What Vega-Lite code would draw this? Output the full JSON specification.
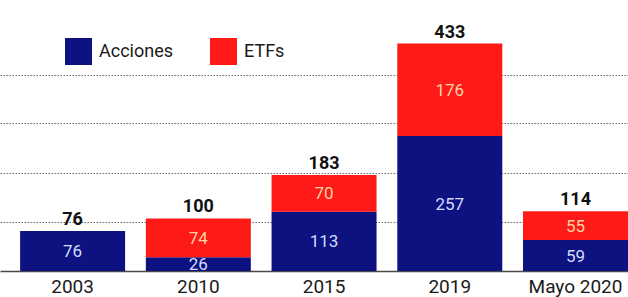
{
  "$schema": "https://vega.github.io/schema/vega-lite/v6.json",
  "width": 628,
  "height": 271,
  "autosize": {"type": "none"},
  "padding": {"left": 0, "top": 0, "right": 0, "bottom": 26},
  "background": "#ffffff",
  "config": {
    "view": {"stroke": null},
    "font": "Roboto, sans-serif"
  },
  "data": {
    "values": [
      {"periodo": "2003", "serie": "Acciones", "valor": 76, "orden": 1},
      {"periodo": "2003", "serie": "ETFs", "valor": 0, "orden": 2},
      {"periodo": "2010", "serie": "Acciones", "valor": 26, "orden": 1},
      {"periodo": "2010", "serie": "ETFs", "valor": 74, "orden": 2},
      {"periodo": "2015", "serie": "Acciones", "valor": 113, "orden": 1},
      {"periodo": "2015", "serie": "ETFs", "valor": 70, "orden": 2},
      {"periodo": "2019", "serie": "Acciones", "valor": 257, "orden": 1},
      {"periodo": "2019", "serie": "ETFs", "valor": 176, "orden": 2},
      {"periodo": "Mayo 2020", "serie": "Acciones", "valor": 59, "orden": 1},
      {"periodo": "Mayo 2020", "serie": "ETFs", "valor": 55, "orden": 2}
    ]
  },
  "encoding": {
    "x": {
      "field": "periodo",
      "type": "nominal",
      "sort": null,
      "scale": {"paddingInner": 0.165, "paddingOuter": 0.08, "align": 1},
      "axis": {
        "title": null,
        "labelAngle": 0,
        "ticks": false,
        "domain": true,
        "domainColor": "#4a4a4a",
        "domainWidth": 1.5,
        "labelFont": "Roboto, sans-serif",
        "labelFontSize": 19,
        "labelColor": "#1a1a1a",
        "labelPadding": 6
      }
    }
  },
  "resolve": {"scale": {"color": "independent"}},
  "layer": [
    {
      "mark": {"type": "bar"},
      "encoding": {
        "y": {
          "field": "valor",
          "type": "quantitative",
          "stack": "zero",
          "scale": {"domain": [0, 516], "nice": false},
          "axis": {
            "title": null,
            "labels": false,
            "ticks": false,
            "domain": false,
            "values": [94, 187, 281, 373],
            "grid": true,
            "gridColor": "#6a6a6a",
            "gridDash": [1.5, 1.5],
            "gridWidth": 1
          }
        },
        "color": {
          "field": "serie",
          "type": "nominal",
          "scale": {"domain": ["Acciones", "ETFs"], "range": ["#0e1180", "#fe1a16"]},
          "legend": {
            "title": null,
            "orient": "none",
            "legendX": 65,
            "legendY": 38,
            "direction": "horizontal",
            "symbolType": "square",
            "symbolSize": 729,
            "symbolStrokeWidth": 0,
            "symbolOpacity": 1,
            "labelFont": "Roboto, sans-serif",
            "labelFontSize": 18,
            "labelColor": "#1a1a1a",
            "labelOffset": 7,
            "columnPadding": 36
          }
        },
        "order": {"field": "orden", "type": "quantitative"}
      }
    },
    {
      "transform": [
        {"stack": "valor", "groupby": ["periodo"], "sort": [{"field": "orden"}], "as": ["v0", "v1"]},
        {"filter": "datum.valor > 0"},
        {"calculate": "(datum.v0 + datum.v1) / 2", "as": "medio"}
      ],
      "mark": {"type": "text", "fontSize": 17, "baseline": "middle", "dy": 1},
      "encoding": {
        "y": {"field": "medio", "type": "quantitative"},
        "text": {"field": "valor", "type": "quantitative"},
        "color": {
          "field": "serie",
          "type": "nominal",
          "scale": {"domain": ["Acciones", "ETFs"], "range": ["#d2ddff", "#ffd3a6"]},
          "legend": null
        }
      }
    },
    {
      "mark": {"type": "text", "fontSize": 18, "fontWeight": "bold", "baseline": "bottom", "dy": -2, "color": "#111111"},
      "encoding": {
        "y": {"aggregate": "sum", "field": "valor", "type": "quantitative"},
        "text": {"aggregate": "sum", "field": "valor", "type": "quantitative"}
      }
    }
  ]
}
